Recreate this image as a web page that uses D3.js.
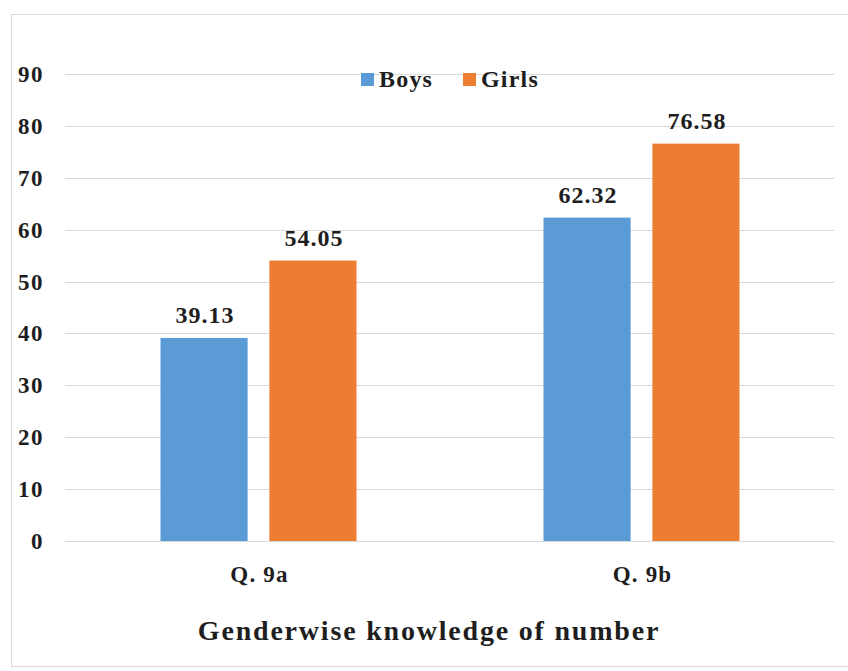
<!DOCTYPE html>
<html lang="en"><head>
<meta charset="utf-8">
<script src="https://cdn.jsdelivr.net/npm/d3@7"></script>
<style>
  body { margin: 0; background: #fff; }
  svg text { font-weight: bold; fill: #1e1e1e; }
</style>
</head>
<body>
<svg id="chart" width="848" height="671"></svg>
<script>
// data
const categories = ["Q. 9a", "Q. 9b"]
const seriesNames = ["Boys", "Girls"]
const boys = [39.13, 62.32]
const girls = [54.05, 76.58]
const yTicks = [0, 10, 20, 30, 40, 50, 60, 70, 80, 90]
const colors = ["#5b9bd5", "#ed7d31"]

const rows = categories.map((c, i) => ({cat: c, values: [boys[i], girls[i]]}))

const svg = d3.select("#chart")
  .style("font-family", "'Liberation Serif', 'Times New Roman', Times, 'DejaVu Serif', serif")

// outer frame
svg.append("rect")
  .attr("x", 11.5).attr("y", 14.5)
  .attr("width", 850).attr("height", 652)
  .attr("fill", "none").attr("stroke", "#d9d9d9")

const x = d3.scaleBand().domain(categories).range([67, 833])
const y = d3.scaleLinear().domain([0, 90]).range([541, 74])
const inner = d3.scaleBand().domain(seriesNames).range([0, 196]).paddingInner(0.2)

// gridlines
svg.append("g")
  .selectAll("line")
  .data(yTicks).enter()
  .append("line")
  .attr("x1", 65).attr("x2", 834)
  .attr("y1", d => Math.round(y(d)) + 0.5)
  .attr("y2", d => Math.round(y(d)) + 0.5)
  .attr("stroke", "#d9d9d9").attr("stroke-width", 1.2)

// y tick labels
svg.append("g")
  .selectAll("text")
  .data(yTicks).enter()
  .append("text")
  .attr("x", 44)
  .attr("y", d => y(d) + 8)
  .attr("text-anchor", "end")
  .attr("font-size", 23)
  .attr("letter-spacing", 1.5)
  .text(d => d)

// bars
const groups = svg.append("g")
  .selectAll("g")
  .data(rows).enter()
  .append("g")
  .attr("transform", d => `translate(${x(d.cat) + (x.bandwidth() - 196) / 2}, 0)`)

groups.selectAll("rect")
  .data(d => d.values.map((v, j) => ({name: seriesNames[j], v: v, j: j}))).enter()
  .append("rect")
  .attr("x", d => inner(d.name))
  .attr("width", inner.bandwidth())
  .attr("y", d => y(d.v))
  .attr("height", d => y(0) - y(d.v))
  .attr("fill", d => colors[d.j])

groups.selectAll("text")
  .data(d => d.values.map((v, j) => ({name: seriesNames[j], v: v}))).enter()
  .append("text")
  .attr("x", d => inner(d.name) + inner.bandwidth() / 2 + 1)
  .attr("y", d => y(d.v) - 15)
  .attr("text-anchor", "middle")
  .attr("font-size", 24)
  .attr("letter-spacing", 1)
  .text(d => d.v.toFixed(2))

// category labels
svg.append("g")
  .selectAll("text")
  .data(categories).enter()
  .append("text")
  .attr("x", d => x(d) + x.bandwidth() / 2 + 1)
  .attr("y", 582)
  .attr("text-anchor", "middle")
  .attr("font-size", 23)
  .attr("letter-spacing", 1.2)
  .text(d => d)

// legend
const legend = svg.append("g")
const legendX = [361, 463]
seriesNames.forEach((n, i) => {
  legend.append("rect")
    .attr("x", legendX[i]).attr("y", 73)
    .attr("width", 13).attr("height", 13)
    .attr("fill", colors[i])
  legend.append("text")
    .attr("x", legendX[i] + 18).attr("y", 87)
    .attr("font-size", 24)
    .attr("letter-spacing", 1.2)
    .text(n)
})

// title
svg.append("text")
  .attr("x", 429).attr("y", 640)
  .attr("text-anchor", "middle")
  .attr("font-size", 28)
  .attr("letter-spacing", 1.8)
  .text("Genderwise knowledge of number")
</script>
</body>
</html>
